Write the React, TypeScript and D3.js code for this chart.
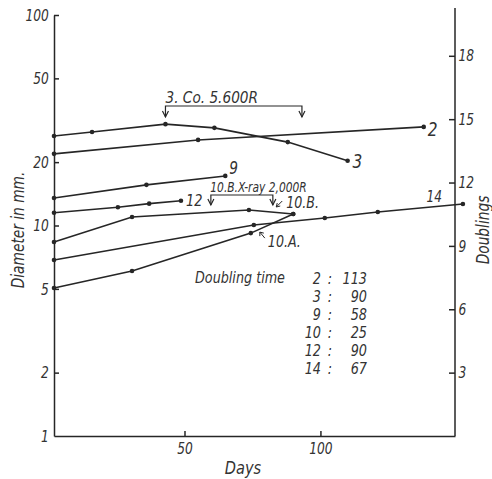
import React, { useRef, useEffect } from "react";
import * as d3 from "d3";

// days / diameter (mm)
const days2 = [2, 55, 138];
const mm2 = [21.9, 25.5, 29.4];
const days3 = [2, 16, 43, 61, 88, 110];
const mm3 = [26.6, 27.8, 30.3, 29.1, 24.9, 20.3];
const days9 = [2, 36, 65];
const mm9 = [13.5, 15.6, 17.2];
const days12 = [2, 25.5, 37, 48.7];
const mm12 = [11.5, 12.2, 12.7, 13.1];
const days10B = [2, 30.7, 73.7, 90];
const mm10B = [8.35, 10.97, 11.85, 11.34];
const days10A = [2, 30.7, 74.4, 90];
const mm10A = [5.05, 6.08, 9.2, 11.34];
const days14 = [2, 75.5, 101.6, 121.1, 152.4];
const mm14 = [6.86, 10.05, 10.85, 11.6, 12.65];

const leftTicks = [1, 2, 5, 10, 20, 50, 100];
const bottomTicks = [50, 100];
const rightTicks = [3, 6, 9, 12, 15, 18];

const doublingIds = ["2", "3", "9", "10", "12", "14"];
const doublingTimes = [113, 90, 58, 25, 90, 67];

const W = 492;
const H = 479;
const ink = "#262626";
const font = "'Liberation Sans Narrow', 'DejaVu Sans Condensed', 'Roboto Condensed', sans-serif";

const x = d3.scaleLinear().domain([2, 149.5]).range([54, 455]);
const y = d3.scaleLog().domain([1, 100]).range([436, 15]);
const yD = d3.scaleLinear().domain([0, 3 * Math.log2(100)]).range([436, 15]);

const pairs = (ds: number[], ms: number[]) => ds.map((d, i) => [d, ms[i]] as [number, number]);

const series = [
  { id: "2", pts: pairs(days2, mm2) },
  { id: "3", pts: pairs(days3, mm3) },
  { id: "9", pts: pairs(days9, mm9) },
  { id: "12", pts: pairs(days12, mm12) },
  { id: "10B", pts: pairs(days10B, mm10B) },
  { id: "10A", pts: pairs(days10A, mm10A) },
  { id: "14", pts: pairs(days14, mm14) },
];

// labels at the end of the lines: offset from the last point, px
const endLabels: { [k: string]: { dx: number; dy: number; size: number; anchor: string } } = {
  "2": { dx: 4, dy: 9, size: 19, anchor: "start" },
  "3": { dx: 5, dy: 7, size: 19, anchor: "start" },
  "9": { dx: 4, dy: -2, size: 17, anchor: "start" },
  "12": { dx: 5, dy: 5, size: 16, anchor: "start" },
  "14": { dx: -21, dy: -2, size: 15, anchor: "end" },
};

const txt = { fontFamily: font, fontStyle: "italic", fill: "#333" } as const;

// narrow italic text: the original lettering is much narrower than the fonts we have
function Txt({
  x: tx,
  y: ty,
  size,
  sx = 0.85,
  anchor = "start",
  children,
}: {
  x: number;
  y: number;
  size: number;
  sx?: number;
  anchor?: string;
  children: React.ReactNode;
}) {
  return (
    <text transform={`translate(${tx},${ty}) scale(${sx},1)`} textAnchor={anchor} fontSize={size} style={txt}>
      {children}
    </text>
  );
}

function Bracket({ d0, d1, yb, drop }: { d0: number; d1: number; yb: number; drop: number }) {
  const x0 = x(d0);
  const x1 = x(d1);
  const head = (xx: number) => `M${xx - 3},${yb + drop - 6} L${xx},${yb + drop} L${xx + 3},${yb + drop - 6}`;
  return (
    <g fill="none" stroke={ink} strokeWidth={1.2}>
      <path d={`M${x0},${yb + drop} V${yb} H${x1} V${yb + drop}`} />
      <path d={head(x0)} />
      <path d={head(x1)} />
    </g>
  );
}

export default function App() {
  const leftRef = useRef<SVGGElement>(null);
  const bottomRef = useRef<SVGGElement>(null);
  const rightRef = useRef<SVGGElement>(null);

  useEffect(() => {
    const style = (g: d3.Selection<SVGGElement, unknown, null, undefined>) => {
      g.selectAll("path, line").attr("stroke", ink).attr("stroke-width", 1.5);
      g.selectAll("text")
        .attr("fill", "#333")
        .attr("transform", "scale(0.85,1)")
        .style("font-family", font)
        .style("font-style", "italic")
        .style("font-size", "16px");
    };
    const left = d3.select(leftRef.current!);
    left.call(
      d3.axisLeft(y).tickValues(leftTicks).tickFormat(d3.format("d")).tickSizeInner(-5).tickSizeOuter(0).tickPadding(6)
    );
    style(left);
    left.selectAll(".tick").filter((d: any) => d === 1).select("line").remove();

    const bottom = d3.select(bottomRef.current!);
    bottom.call(d3.axisBottom(x).tickValues(bottomTicks).tickSizeInner(-5).tickSizeOuter(0).tickPadding(7));
    style(bottom);

    const right = d3.select(rightRef.current!);
    right.call(d3.axisRight(yD).tickValues(rightTicks).tickSizeInner(-6).tickSizeOuter(0).tickPadding(4));
    right.select(".domain").remove();
    style(right);
  }, []);

  const line = d3
    .line<[number, number]>()
    .x((d) => x(d[0]))
    .y((d) => y(d[1]));

  const last = (id: string) => series.find((s) => s.id === id)!.pts.slice(-1)[0];
  const p10B = last("10B");
  const p10A = series.find((s) => s.id === "10A")!.pts[2];

  return (
    <svg width={W} height={H} style={{ position: "absolute", left: 0, top: 0, background: "#fff" }}>
      <g ref={leftRef} transform={`translate(${x(2)},0)`} />
      <g ref={bottomRef} transform={`translate(0,${y(1)})`} />
      <g ref={rightRef} transform={`translate(${x(149.5)},0)`} />
      <line x1={x(149.5)} x2={x(149.5)} y1={y(1)} y2={8} stroke={ink} strokeWidth={1.5} />

      {series.map((s) => (
        <g key={s.id}>
          <path d={line(s.pts) ?? ""} fill="none" stroke={ink} strokeWidth={1.6} />
          {s.pts.map((p, i) => (
            <circle key={i} cx={x(p[0])} cy={y(p[1])} r={2.3} fill={ink} />
          ))}
        </g>
      ))}

      {Object.keys(endLabels).map((id) => {
        const p = last(id);
        const o = endLabels[id];
        return (
          <Txt key={id} x={x(p[0]) + o.dx} y={y(p[1]) + o.dy} size={o.size} anchor={o.anchor} sx={0.9}>
            {id}
          </Txt>
        );
      })}

      {/* 10.B. and 10.A. pointers */}
      <Txt x={x(p10B[0]) - 7} y={y(p10B[1]) - 6} size={16} sx={0.88}>10.B.</Txt>
      <path
        d={`M${x(p10B[0]) - 11},${y(p10B[1]) - 13} L${x(p10B[0]) - 17},${y(p10B[1]) - 7} M${x(p10B[0]) - 17},${y(p10B[1]) - 7} l1,-4 M${x(p10B[0]) - 17},${y(p10B[1]) - 7} l4,-1`}
        stroke={ink}
        strokeWidth={1}
        fill="none"
      />
      <Txt x={x(p10A[0]) + 17} y={y(p10A[1]) + 14} size={16} sx={0.88}>10.A.</Txt>
      <path
        d={`M${x(p10A[0]) + 14},${y(p10A[1]) + 5} L${x(p10A[0]) + 9},${y(p10A[1]) - 1} M${x(p10A[0]) + 9},${y(p10A[1]) - 1} l0,4 M${x(p10A[0]) + 9},${y(p10A[1]) - 1} l4,1`}
        stroke={ink}
        strokeWidth={1}
        fill="none"
      />

      {/* treatment brackets */}
      <Txt x={x(43)} y={103} size={16} sx={0.95}>3. Co. 5.600R</Txt>
      <Bracket d0={43} d1={93.2} yb={106} drop={11} />
      <Txt x={x(59.5)} y={192} size={13.5} sx={0.88}>10.B.X-ray 2,000R</Txt>
      <Bracket d0={59.7} d1={82.5} yb={195} drop={10} />

      {/* doubling time table */}
      <Txt x={195} y={283} size={16.5} sx={0.86}>Doubling time</Txt>
      {doublingIds.map((id, i) => (
        <g key={id}>
          <Txt x={321} y={284 + i * 18} size={15.5} sx={0.92} anchor="end">{id}</Txt>
          <Txt x={330} y={284 + i * 18} size={15.5} sx={0.92} anchor="middle">:</Txt>
          <Txt x={367} y={284 + i * 18} size={15.5} sx={0.92} anchor="end">{doublingTimes[i]}</Txt>
        </g>
      ))}

      {/* axis titles */}
      <Txt x={243} y={474} size={18} anchor="middle" sx={0.9}>Days</Txt>
      <text
        transform="translate(18,230) rotate(-90) scale(0.9,1)"
        textAnchor="middle"
        dominantBaseline="central"
        fontSize={17}
        style={txt}
      >
        Diameter in mm.
      </text>
      <text
        transform="translate(483,230) rotate(-90) scale(0.9,1)"
        textAnchor="middle"
        dominantBaseline="central"
        fontSize={17}
        style={txt}
      >
        Doublings
      </text>
    </svg>
  );
}
